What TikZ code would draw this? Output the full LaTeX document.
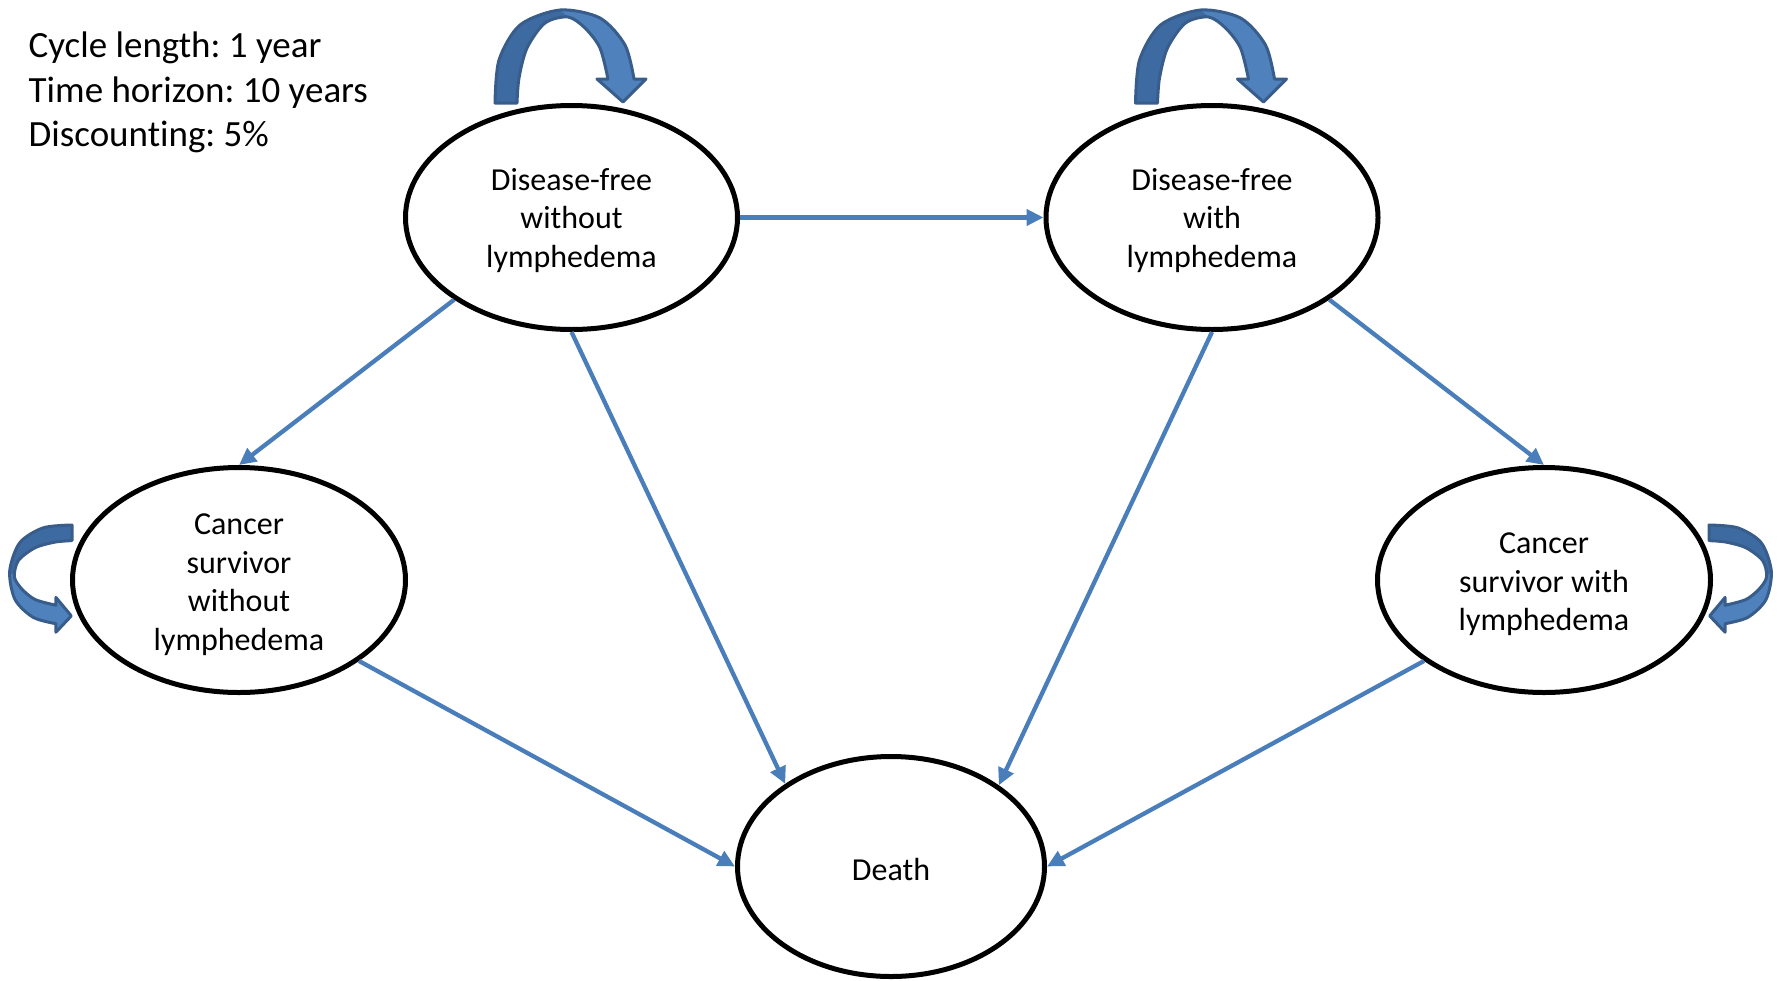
\documentclass[tikz,border=0pt]{standalone}
\usepackage{fontspec}
\setmainfont{Carlito}[Ligatures=NoCommon]
\frenchspacing
\usetikzlibrary{arrows.meta,shapes.geometric}
\definecolor{linkblue}{RGB}{74,126,187}
\definecolor{arrlight}{RGB}{79,129,189}
\definecolor{arrdark}{RGB}{62,106,162}
\definecolor{arredge}{RGB}{56,93,138}
\newcommand\nodefnt{\fontsize{32}{38.5}\selectfont}
\newcommand\infofnt{\fontsize{37}{44.5}\selectfont}
\newcommand\lowerA{\rule{0pt}{27.5pt}}
\newcommand\lowerB{\rule{0pt}{30pt}}
\newcommand\loopshape{%
  \fill[arrlight] (0,0) -- plot[smooth] coordinates {(0,0) (4,43) (25,78) (65,93) (105,85) (130,58) (139,24)} -- (151,24) -- (128,1) -- (102,24) -- plot[smooth] coordinates {(113,24) (105,55) (90,75) (73,86) (50,80) (32,55) (24,25) (22,0)} -- cycle;
  \fill[arrdark] plot[smooth] coordinates {(0,0) (4,43) (25,78) (65,93)} -- plot[smooth] coordinates {(73,86) (50,80) (32,55) (24,25) (22,0)} -- cycle;
  \draw[arredge, line width=3pt, line join=round] (0,0) -- plot[smooth] coordinates {(0,0) (4,43) (25,78) (65,93) (105,85) (130,58) (139,24)} -- (151,24) -- (128,1) -- (102,24) -- plot[smooth] coordinates {(113,24) (105,55) (90,75) (73,86) (50,80) (32,55) (24,25) (22,0)} -- cycle;
}
\begin{document}
\begin{tikzpicture}[x=1pt,y=-1pt,
  state/.style={ellipse, draw=black, line width=5pt, fill=white, inner sep=0pt, font=\nodefnt, align=center},
  dfstate/.style={state, minimum width=332pt, minimum height=224pt},
  csstate/.style={state, minimum width=333pt, minimum height=225pt},
  link/.style={draw=linkblue, line width=4.3pt, -{Triangle[length=17pt,width=16pt]}}]
\useasboundingbox (0,0) rectangle (1787,980);
\node[anchor=north west, align=left, font=\infofnt, inner sep=0pt] (info) at (28.5,32) {Cycle length: 1 year\\Time horizon: 10 years\\Discounting: 5\%};
\node[dfstate] (dfwo) at (571.5,217.5) {\lowerA Disease-free\\without\\lymphedema};
\node[dfstate] (dfw) at (1212,217.5) {\lowerA Disease-free\\with\\lymphedema};
\node[csstate] (cswo) at (239,580) {\lowerB Cancer\\survivor\\without\\lymphedema};
\node[csstate] (csw) at (1544,580) {\lowerB Cancer\\survivor with\\lymphedema};
\node[state, minimum width=307pt, minimum height=220pt] (death) at (891,866.5) {\lowerA Death};
\draw[link] (dfwo.east) -- (dfw.west);
\draw[link] (dfwo.215) -- (cswo.north);
\draw[link] (dfwo.south) -- (death.142);
\draw[link] (dfw.south) -- (death.37);
\draw[link] (dfw.325) -- (csw.north);
\draw[link] (cswo.326) -- (death.west);
\draw[link] (csw.214) -- (death.east);
\begin{scope}[shift={(495pt,-103pt)}, x={(1pt,0pt)}, y={(0pt,1pt)}]
  \loopshape
\end{scope}
\begin{scope}[shift={(1135.5pt,-103pt)}, x={(1pt,0pt)}, y={(0pt,1pt)}]
  \loopshape
\end{scope}
\begin{scope}[shift={(72pt,-525pt)}, x={(0pt,-0.71pt)}, y={(-0.67pt,0pt)}]
  \loopshape
\end{scope}
\begin{scope}[shift={(1709pt,-525pt)}, x={(0pt,-0.71pt)}, y={(0.67pt,0pt)}]
  \loopshape
\end{scope}
\end{tikzpicture}
\end{document}
